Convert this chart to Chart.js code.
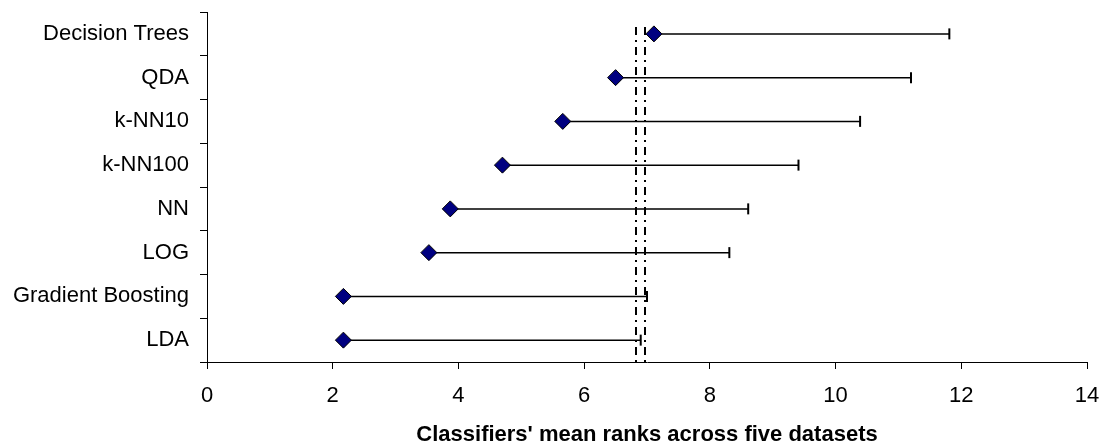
<!DOCTYPE html>
<html>
<head>
<meta charset="utf-8">
<script src="https://cdn.jsdelivr.net/npm/chart.js@4.4.1/dist/chart.umd.min.js"></script>
<style>
  html, body { margin: 0; padding: 0; background: #fff; }
  #wrap { width: 1101px; height: 444px; }
</style>
</head>
<body>
<div id="wrap"><canvas id="chart"></canvas></div>
<script>
// classifiers top to bottom, mean rank (diamond) and upper end of the bar
const classifiers = ['Decision Trees', 'QDA', 'k-NN10', 'k-NN100', 'NN', 'LOG', 'Gradient Boosting', 'LDA'];
const meanRanks   = [7.11, 6.50, 5.66, 4.70, 3.87, 3.53, 2.17, 2.17];
const upperRanks  = [11.81, 11.20, 10.39, 9.41, 8.61, 8.31, 7.00, 6.90];
const xTicks      = [0, 2, 4, 6, 8, 10, 12, 14];
const refLines    = [6.83, 6.97];
const refLineTop  = -0.16; // category index where the dash-dot lines start

const FONT = "'Liberation Sans', Arial, sans-serif";

const errorBars = {
  id: 'errorBars',
  beforeDatasetsDraw(chart) {
    const { ctx, chartArea } = chart;
    const x = chart.scales.x, y = chart.scales.y;
    ctx.save();
    ctx.strokeStyle = '#000';

    // critical-difference lines
    ctx.lineWidth = 2;
    ctx.setLineDash([8, 5, 2, 5]);
    refLines.forEach(v => {
      const px = Math.round(x.getPixelForValue(v));
      ctx.beginPath();
      ctx.moveTo(px, y.getPixelForValue(refLineTop));
      ctx.lineTo(px, chartArea.bottom);
      ctx.stroke();
    });
    ctx.setLineDash([]);

    classifiers.forEach((c, i) => {
      const py = y.getPixelForValue(i);
      const x0 = x.getPixelForValue(meanRanks[i]);
      const x1 = x.getPixelForValue(upperRanks[i]);
      ctx.lineWidth = 1.5;
      ctx.beginPath(); ctx.moveTo(x0, py); ctx.lineTo(x1, py); ctx.stroke();
      ctx.lineWidth = 2;
      ctx.beginPath(); ctx.moveTo(x1, py - 5.5); ctx.lineTo(x1, py + 5.5); ctx.stroke();
    });
    ctx.restore();
  }
};

new Chart(document.getElementById('chart'), {
  type: 'scatter',
  data: {
    datasets: [{
      data: classifiers.map((c, i) => ({ x: meanRanks[i], y: c })),
      pointStyle: 'rectRot',
      pointRadius: 8,
      pointHoverRadius: 8,
      backgroundColor: '#000080',
      borderColor: '#000',
      borderWidth: 1
    }]
  },
  options: {
    responsive: true,
    maintainAspectRatio: false,
    animation: false,
    layout: { padding: { left: 10, right: 14, top: 12, bottom: 0 } },
    plugins: { legend: { display: false }, tooltip: { enabled: false } },
    scales: {
      x: {
        type: 'linear', min: 0, max: 14,
        afterBuildTicks: s => { s.ticks = xTicks.map(v => ({ value: v })); },
        afterFit: s => { s.paddingLeft = 0; s.paddingRight = 0; s.height = 82; },
        grid: { drawOnChartArea: false, tickLength: 7, color: '#000' },
        border: { color: '#000', width: 1 },
        ticks: { color: '#000', font: { family: FONT, size: 22 }, padding: 14, maxRotation: 0 },
        title: {
          display: true,
          text: "Classifiers' mean ranks across five datasets",
          color: '#000',
          font: { family: FONT, size: 22, weight: 'bold' },
          padding: { top: 12, bottom: -4 }
        }
      },
      y: {
        type: 'category', labels: classifiers, offset: true,
        grid: { offset: true, drawOnChartArea: false, tickLength: 7, color: '#000' },
        border: { color: '#000', width: 1 },
        ticks: { color: '#000', font: { family: FONT, size: 22 }, padding: 11, autoSkip: false },
        afterFit: s => { s.width = 197; s.paddingTop = 0; s.paddingBottom = 0; }
      }
    }
  },
  plugins: [errorBars]
});
</script>
</body>
</html>
